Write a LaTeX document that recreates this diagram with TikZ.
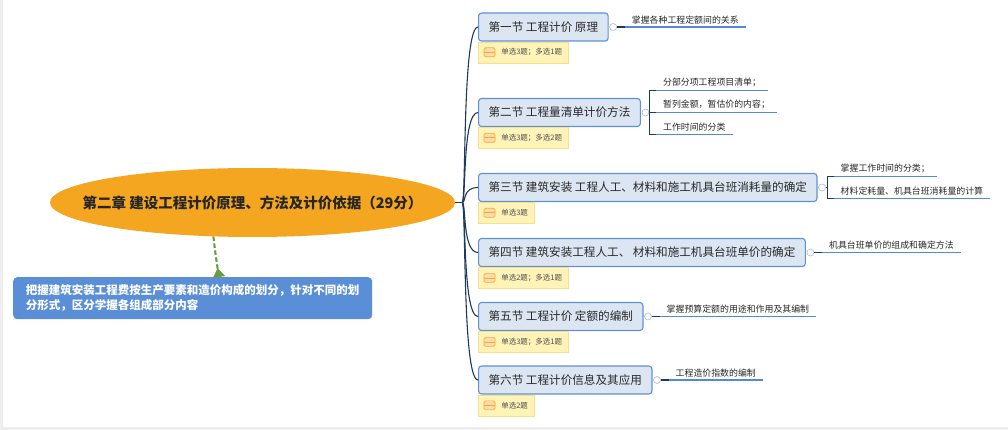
\documentclass[tikz,border=0pt]{standalone}
\usepackage{fontspec}
\setmainfont{Noto Sans CJK SC}
\definecolor{chapfill}{RGB}{244,166,32}
\definecolor{notefill}{RGB}{90,142,214}
\definecolor{linkgreen}{RGB}{107,154,63}
\definecolor{secfill}{RGB}{220,230,243}
\definecolor{secline}{RGB}{96,145,214}
\definecolor{tagfill}{RGB}{255,243,184}
\definecolor{tagline}{RGB}{246,224,140}
\definecolor{tagorange}{RGB}{245,170,50}
\definecolor{trunkline}{RGB}{30,58,90}
\definecolor{leafline}{RGB}{84,138,212}
\definecolor{knobline}{RGB}{176,188,208}
\definecolor{txtdark}{RGB}{40,40,40}
\definecolor{txtsoft}{RGB}{80,80,80}
\definecolor{edgegray}{RGB}{238,238,238}
\usetikzlibrary{arrows.meta,positioning,calc,shapes.geometric}

\begin{document}
\begin{tikzpicture}[x=1pt,y=-1pt,
    secbox/.style={draw=secline,fill=secfill,rounded corners=3pt,line width=1.1pt,
      minimum height=28pt,inner xsep=10pt,inner ysep=0pt,anchor=west,
      font=\fontsize{11.6}{13}\selectfont,text=txtdark},
    tagbox/.style={draw=tagline,fill=tagfill,line width=0.6pt,minimum height=21pt,
      inner xsep=6pt,inner ysep=0pt,anchor=north west,
      font=\fontsize{7.5}{9}\selectfont,text=txtsoft},
    tagicon/.style={draw=tagorange,fill=tagorange!40,rounded corners=1.5pt,line width=0.7pt},
    knob/.style={circle,draw=knobline,fill=white,line width=0.6pt,inner sep=0pt,minimum size=7pt},
    leaf/.style={anchor=south west,inner xsep=7pt,inner ysep=3pt,
      font=\fontsize{8.9}{10}\selectfont,text=txtdark},
    uline/.style={draw=leafline,line width=1.8pt},
    trunk/.style={draw=trunkline,line width=1.1pt}]
  % page and grey screen edges
  \fill[white] (0,0) rectangle (1008,430);
  \fill[edgegray] (0,0) rectangle (3,430);
  \fill[edgegray] (0,427) rectangle (1008,430);
  \useasboundingbox (0,0) rectangle (1008,430);

  % central topic and its note
  \node[ellipse,fill=chapfill,minimum width=405pt,minimum height=69pt,inner sep=0pt,
    font=\fontsize{14.5}{16}\selectfont\bfseries,text=black!85] (chap) at (252.5,202.5)
    {\makebox[0pt]{第二章 建设工程计价原理、方法及计价依据（29分）}};
  \node[fill=notefill,rounded corners=4pt,anchor=north west,minimum width=359pt,
    minimum height=42pt,inner xsep=10pt,align=left,text=white,
    font=\fontsize{11.5}{15}\selectfont\bfseries] (note) at (13,277)
    {把握建筑安装工程费按生产要素和造价构成的划分，针对不同的划\\分形式，区分学握各组成部分内容};
  \draw[linkgreen,line width=2.1pt,dash pattern=on 4.5pt off 2.5pt,
    -{Triangle[reversed,length=9pt,width=12pt]}]
    (chap.221) .. controls (216,258) .. ([xshift=206pt]note.north west);

  \coordinate (hub) at ([xshift=7pt]chap.east);
  \draw[trunk] (chap.east) -- (hub);

  % sections
  \foreach \i/\y/\title/\tag in {
      1/27/{第一节 工程计价 原理}/{单选3题；多选1题},
      2/112.5/{第二节 工程量清单计价方法}/{单选3题；多选2题},
      3/187.5/{第三节 建筑安装 工程人工、材料和施工机具台班消耗量的确定}/{单选3题},
      4/252.5/{第四节 建筑安装工程人工、 材料和施工机具台班单价的确定}/{单选2题；多选1题},
      5/316.5/{第五节 工程计价 定额的编制}/{单选3题；多选1题},
      6/380/{第六节 工程计价信息及其应用}/{单选2题}} {
    \node[secbox] (s\i) at (478,\y) {\title};
    \node[tagbox] (t\i) at (s\i.south west) {\hspace*{17pt}\tag};
    \draw[tagicon] ([xshift=6pt,yshift=4.5pt]t\i.west) rectangle ++(11,9);
    \draw[tagorange,line width=0.7pt] ([xshift=6pt]t\i.west) -- ++(11,0);
    \draw[trunk] (hub) .. controls ([xshift=4pt]hub) and (hub |- s\i.west) .. (s\i.west);
    \node[knob] (k\i) at ([xshift=4.5pt]s\i.east) {};
  }

  % single leaves
  \foreach \i/\txt in {1/掌握各种工程定额间的关系, 4/机具台班单价的组成和确定方法,
      5/掌握预算定额的用途和作用及其编制, 6/工程造价指数的编制} {
    \node[leaf] (l\i) at ([xshift=16pt]s\i.east) {\txt};
    \draw[uline] (l\i.south west) -- (l\i.south east);
    \draw[trunk] (k\i) -- (l\i.south west);
  }

  % leaves of section 2
  \node[leaf] (l21) at ([xshift=15pt,yshift=22pt]s2.east) {分部分项工程项目清单；};
  \node[leaf] (l22) at ([xshift=15pt]s2.east) {暂列金额，暂估价的内容；};
  \node[leaf] (l23) at ([xshift=15pt,yshift=-22pt]s2.east) {工作时间的分类};
  \foreach \j in {21,22,23}
    \draw[uline] (l\j.south west) -- (l\j.south east);
  \draw[trunk] (l21.south west) -- ++(-6,0) |- (l23.south west);
  \draw[trunk] (k2) -- (l22.south west);

  % leaves of section 3
  \node[leaf] (l31) at ([xshift=16pt,yshift=11pt]s3.east) {掌握工作时间的分类；};
  \node[leaf] (l32) at ([xshift=16pt,yshift=-11pt]s3.east) {材料定耗量、机具台班消耗量的计算};
  \foreach \j in {31,32}
    \draw[uline] (l\j.south west) -- (l\j.south east);
  \draw[trunk] (l31.south west) -- ++(-6,0) |- (l32.south west);
  \draw[trunk] (k3) -- ([xshift=-6pt]l31.south west |- k3);
\end{tikzpicture}
\end{document}
